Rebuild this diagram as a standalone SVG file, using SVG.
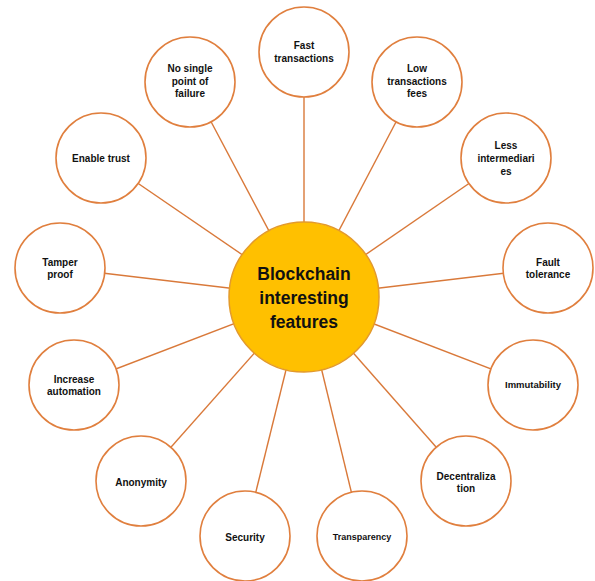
<svg xmlns="http://www.w3.org/2000/svg" width="595" height="581" viewBox="0 0 595 581">
<style>
.n{fill:#fff;stroke:#E07F3E;stroke-width:1.6}
.c{fill:#FFC000;stroke:#E39A2C;stroke-width:1.5}
.t{font-family:"Liberation Sans",Arial,sans-serif;font-weight:bold;font-size:10px;fill:#111;text-anchor:middle}
.ct{font-family:"Liberation Sans",Arial,sans-serif;font-weight:bold;font-size:17.5px;fill:#111;text-anchor:middle}
#edges line{stroke:#D9793A;stroke-width:1.4}
</style>
<rect width="595" height="581" fill="#fff"/>
<g id="edges">
<line x1="304" y1="297" x2="190" y2="82"/>
<line x1="304" y1="297" x2="304" y2="52"/>
<line x1="304" y1="297" x2="417" y2="82"/>
<line x1="304" y1="297" x2="101" y2="158"/>
<line x1="304" y1="297" x2="506" y2="158"/>
<line x1="304" y1="297" x2="60" y2="268"/>
<line x1="304" y1="297" x2="548" y2="268"/>
<line x1="304" y1="297" x2="74" y2="385"/>
<line x1="304" y1="297" x2="533" y2="385"/>
<line x1="304" y1="297" x2="141" y2="481"/>
<line x1="304" y1="297" x2="466" y2="481"/>
<line x1="304" y1="297" x2="245" y2="536"/>
<line x1="304" y1="297" x2="362" y2="536"/>
</g>
<g id="center"><circle class="c" cx="304" cy="297" r="75"/>
<text class="ct" x="304" y="280">Blockchain</text>
<text class="ct" x="304" y="304">interesting</text>
<text class="ct" x="304" y="328">features</text></g>
<g id="no-single-point"><circle class="n" cx="190" cy="82" r="45"/>
<text class="t" x="190" y="71.5">No single</text><text class="t" x="190" y="84.5">point of</text><text class="t" x="190" y="97">failure</text></g>
<g id="fast-transactions"><circle class="n" cx="304" cy="52" r="45"/>
<text class="t" x="304" y="49">Fast</text><text class="t" x="304" y="62">transactions</text></g>
<g id="low-fees"><circle class="n" cx="417" cy="82" r="45"/>
<text class="t" x="417" y="71.5">Low</text><text class="t" x="417" y="84.5">transactions</text><text class="t" x="417" y="97">fees</text></g>
<g id="enable-trust"><circle class="n" cx="101" cy="158" r="45"/>
<text class="t" x="101" y="161.5">Enable trust</text></g>
<g id="less-intermediaries"><circle class="n" cx="506" cy="158" r="45"/>
<text class="t" x="506" y="148.5">Less</text><text class="t" x="506" y="161.5">intermediari</text><text class="t" x="506" y="174.5">es</text></g>
<g id="tamper-proof"><circle class="n" cx="60" cy="268" r="45"/>
<text class="t" x="60" y="265.5">Tamper</text><text class="t" x="60" y="277.5">proof</text></g>
<g id="fault-tolerance"><circle class="n" cx="548" cy="268" r="45"/>
<text class="t" x="548" y="265.5">Fault</text><text class="t" x="548" y="277.5">tolerance</text></g>
<g id="increase-automation"><circle class="n" cx="74" cy="385" r="45"/>
<text class="t" x="74" y="382.5">Increase</text><text class="t" x="74" y="394.5">automation</text></g>
<g id="immutability"><circle class="n" cx="533" cy="385" r="45"/>
<text class="t" x="533" y="387.5" style="font-size:9.5px">Immutability</text></g>
<g id="anonymity"><circle class="n" cx="141" cy="481" r="45"/>
<text class="t" x="141" y="485.5">Anonymity</text></g>
<g id="decentralization"><circle class="n" cx="466" cy="481" r="45"/>
<text class="t" x="466" y="479.5">Decentraliza</text><text class="t" x="466" y="491.5">tion</text></g>
<g id="security"><circle class="n" cx="245" cy="536" r="45"/>
<text class="t" x="245" y="540.5">Security</text></g>
<g id="transparency"><circle class="n" cx="362" cy="536" r="45"/>
<text class="t" x="362" y="540" style="font-size:9px">Transparency</text></g>
</svg>
